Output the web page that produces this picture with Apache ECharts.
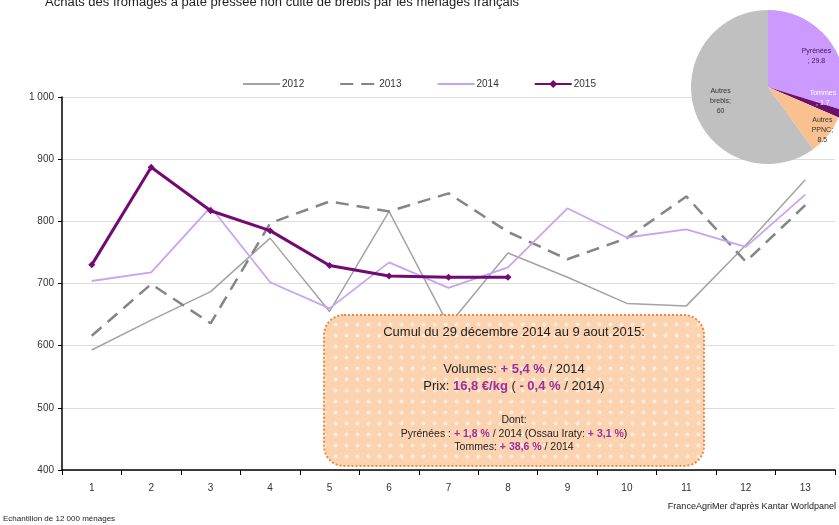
<!DOCTYPE html>
<html>
<head>
<meta charset="utf-8">
<script src="https://cdn.jsdelivr.net/npm/echarts@6/dist/echarts.min.js"></script>
<style>html,body{margin:0;padding:0;background:#fff}#c{width:839px;height:525px}</style>
</head>
<body>
<div id="c"></div>
<script>
var categories = ['1','2','3','4','5','6','7','8','9','10','11','12','13'];
var s2012 = [593, 641, 687, 773, 655, 816, 633, 749, 710, 668, 664, 762, 867];
var s2013 = [616, 699, 636, 797, 832, 816, 845, 783, 739, 773, 840, 735, 826];
var s2014 = [704, 718, 823, 702, 660, 734, 693, 726, 821, 774, 787, 759, 843];
var s2015 = [730, 887, 817, 785, 729, 712, 710, 710];
var pieNames = ['Pyrénées', 'Tommes', 'Autres PPNC', 'Autres brebis'];
var pieLabels = ['Pyrénées\n; 29.8', 'Tommes\n; 1.7', 'Autres\nPPNC;\n8.5', 'Autres\nbrebis;\n60'];
var pieValues = [29.8, 1.7, 8.5, 60];

var FONT = 'Liberation Sans, Arial, sans-serif';
var HL = '#9a2f9e';
var chart = echarts.init(document.getElementById('c'), null, {renderer: 'canvas'});

var pieColors = ['#cc99ff', '#6b106b', '#fac090', '#c0c0c0'];
var pieLabelColors = ['#3b1a5a', '#ffffff', '#333333', '#333333'];
var pieShift = [[15, -6], [16, -3], [22, 17], [-8, 1]];

// dotted fill pattern for the note box
var pat = document.createElement('canvas');
pat.width = 11; pat.height = 11;
var pc = pat.getContext('2d');
pc.fillStyle = '#fbd3b0'; pc.fillRect(0, 0, 11, 11);
pc.fillStyle = 'rgba(255,240,225,0.85)';
pc.beginPath(); pc.arc(5.5, 5.5, 2, 0, Math.PI * 2); pc.fill();

var noIcon = {color: 'transparent', borderWidth: 0, opacity: 0};

chart.setOption({
  animation: false,
  title: {
    text: 'Achats des fromages à pâte pressée non cuite de brebis par les ménages français',
    left: 40, top: -9,
    textStyle: {fontFamily: FONT, fontSize: 13, fontWeight: 'normal', color: '#222'}
  },
  legend: {
    left: 237, top: 74,
    itemWidth: 37, itemHeight: 10, itemGap: 35,
    textStyle: {fontFamily: FONT, fontSize: 10, color: '#333', padding: [0, 0, 0, -3]},
    data: [
      {name: '2012', itemStyle: noIcon},
      {name: '2013', itemStyle: noIcon},
      {name: '2014', itemStyle: noIcon},
      {name: '2015'}
    ]
  },
  grid: {left: 62, right: 4, top: 97, bottom: 55, containLabel: false},
  xAxis: {
    type: 'category', data: categories, boundaryGap: true,
    axisLine: {lineStyle: {color: '#000', width: 1.5}},
    axisTick: {show: true, length: 5, lineStyle: {color: '#000'}},
    axisLabel: {fontFamily: FONT, fontSize: 10, color: '#333', margin: 13}
  },
  yAxis: {
    type: 'value', min: 400, max: 1000, interval: 100,
    axisLine: {show: true, lineStyle: {color: '#000', width: 1.5}},
    axisTick: {show: true, length: 4, lineStyle: {color: '#000'}},
    axisLabel: {fontFamily: FONT, fontSize: 10, color: '#333', margin: 8,
      formatter: function (v) { return v >= 1000 ? '1 000' : String(v); }},
    splitLine: {show: true, lineStyle: {color: '#dcdcdc', width: 1}}
  },
  series: [
    {name: '2012', type: 'line', data: s2012, symbol: 'none', z: 2,
      lineStyle: {color: '#a3a3a3', width: 1.5}, itemStyle: {color: '#a3a3a3'}},
    {name: '2013', type: 'line', data: s2013, symbol: 'none', z: 3,
      lineStyle: {color: '#858585', width: 2.5, type: [13, 8]}, itemStyle: {color: '#858585'}},
    {name: '2014', type: 'line', data: s2014, symbol: 'none', z: 4,
      lineStyle: {color: '#c9a3f2', width: 1.8}, itemStyle: {color: '#c9a3f2'}},
    {name: '2015', type: 'line', data: s2015, symbol: 'diamond', symbolSize: 7, z: 5,
      lineStyle: {color: '#730a73', width: 3}, itemStyle: {color: '#730a73'}},
    {name: 'pie', type: 'pie', center: [768, 87], radius: 77, startAngle: 90, clockwise: true,
      z: 10, silent: true,
      data: pieValues.map(function (v, i) {
        return {name: pieNames[i], value: v, itemStyle: {color: pieColors[i]},
          label: {color: pieLabelColors[i]}};
      }),
      label: {show: true, position: 'inside', fontFamily: FONT, fontSize: 7, lineHeight: 10,
        formatter: function (p) { return pieLabels[p.dataIndex]; }},
      labelLayout: function (p) { return {dx: pieShift[p.dataIndex][0], dy: pieShift[p.dataIndex][1]}; },
      labelLine: {show: false}
    }
  ],
  graphic: [
    {type: 'rect', z: 100, shape: {x: 324, y: 315, width: 380, height: 151, r: 20},
      style: {fill: {image: pat, repeat: 'repeat'}, stroke: '#f08a3a', lineWidth: 2, lineDash: [2, 2]}},
    {type: 'text', z: 101, style: {x: 514, y: 332, text: 'Cumul du 29 décembre 2014 au 9 aout 2015:',
      align: 'center', verticalAlign: 'middle', fontFamily: FONT, fontSize: 13, fill: '#222'}},
    {type: 'text', z: 101, style: {x: 514, y: 369, text: 'Volumes: {h|+ 5,4 %} / 2014',
      align: 'center', verticalAlign: 'middle', fontFamily: FONT, fontSize: 13, fill: '#222',
      rich: {h: {fill: HL, fontWeight: 'bold', fontFamily: FONT, fontSize: 13}}}},
    {type: 'text', z: 101, style: {x: 514, y: 386, text: 'Prix: {h|16,8 €/kg} ( {h|- 0,4 %} / 2014)',
      align: 'center', verticalAlign: 'middle', fontFamily: FONT, fontSize: 13, fill: '#222',
      rich: {h: {fill: HL, fontWeight: 'bold', fontFamily: FONT, fontSize: 13}}}},
    {type: 'text', z: 101, style: {x: 514, y: 420, text: 'Dont:',
      align: 'center', verticalAlign: 'middle', fontFamily: FONT, fontSize: 10.5, fill: '#222'}},
    {type: 'text', z: 101, style: {x: 514, y: 434, text: 'Pyrénées : {h|+ 1,8 %} / 2014 (Ossau Iraty: {h|+ 3,1 %})',
      align: 'center', verticalAlign: 'middle', fontFamily: FONT, fontSize: 10.5, fill: '#222',
      rich: {h: {fill: HL, fontWeight: 'bold', fontFamily: FONT, fontSize: 10.5}}}},
    {type: 'text', z: 101, style: {x: 514, y: 447, text: 'Tommes: {h|+ 38,6 %} / 2014',
      align: 'center', verticalAlign: 'middle', fontFamily: FONT, fontSize: 10.5, fill: '#222',
      rich: {h: {fill: HL, fontWeight: 'bold', fontFamily: FONT, fontSize: 10.5}}}},
    {type: 'text', z: 101, style: {x: 3, y: 519, text: 'Echantillon de 12 000 ménages',
      align: 'left', verticalAlign: 'middle', fontFamily: 'Liberation Sans Narrow, ' + FONT, fontSize: 8, fill: '#222'}},
    {type: 'text', z: 101, style: {x: 836, y: 507, text: "FranceAgriMer d'après Kantar Worldpanel",
      align: 'right', verticalAlign: 'middle', fontFamily: 'Liberation Sans Narrow, ' + FONT, fontSize: 9, fill: '#222'}}
  ]
});
</script>
</body>
</html>
